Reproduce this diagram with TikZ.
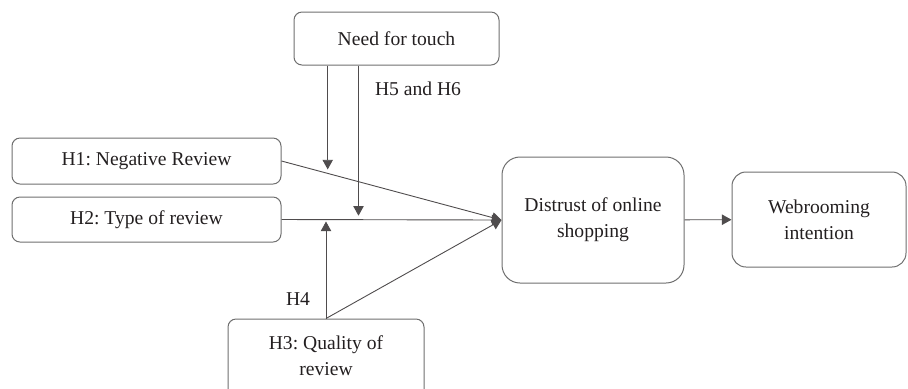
\documentclass[tikz,border=0pt]{standalone}
\usepackage{fontspec}
\setmainfont{Liberation Serif}
\usetikzlibrary{arrows.meta}
\definecolor{boxline}{HTML}{6E6E6E}
\definecolor{ink}{HTML}{231F20}
\frenchspacing
\begin{document}
\begin{tikzpicture}[x=0.5pt,y=-0.5pt,
    every node/.style={text=ink,font=\fontsize{9.8}{13}\selectfont},
    box/.style={draw=boxline,line width=0.5pt,rounded corners=4pt,align=center,inner sep=0pt},
    arr/.style={draw=ink!80,line width=0.45pt,-{Triangle[length=4.8pt,width=5.2pt]}}]
    \clip (0,0) rectangle (908,388);
    \node[box,minimum width=102.5pt,minimum height=26.5pt] (need) at (396.5,38.5) {Need for touch};
    \node[box,minimum width=134.5pt,minimum height=23pt] (h1) at (146.5,161) {H1: Negative Review};
    \node[box,minimum width=134.5pt,minimum height=22.5pt] (h2) at (146.5,219.5) {H2: Type of review};
    \node[box,minimum width=98pt,minimum height=40pt,text depth=3pt] (h3) at (326,359) {H3: Quality of\\review};
    \node[box,rounded corners=9pt,minimum width=91pt,minimum height=63pt] (distrust) at (593,220) {Distrust of online\\shopping};
    \node[box,rounded corners=7pt,minimum width=87pt,minimum height=47.5pt] (web) at (819,219.5) {Webrooming\\intention};
    \node (h56) at (418,89) {H5 and H6};
    \node (h4) at (298,299) {H4};
    % main paths
    \draw[arr] (h1.east) -- (distrust.west) coordinate[pos=.21] (m1);
    \draw[arr] (h2.east) -- (distrust.west) coordinate[pos=.35] (m2);
    \draw[arr] (h3.north) -- (distrust.west);
    \draw[arr] (distrust) -- (web);
    % moderators
    \draw[arr,shorten >=2pt] (need.south -| m1) -- (m1);
    \draw[arr,shorten >=2pt] (need.south -| m2) -- (m2);
    \draw[arr,shorten >=1pt] (h3.north) -- (h3.north |- h2.east);
\end{tikzpicture}
\end{document}
